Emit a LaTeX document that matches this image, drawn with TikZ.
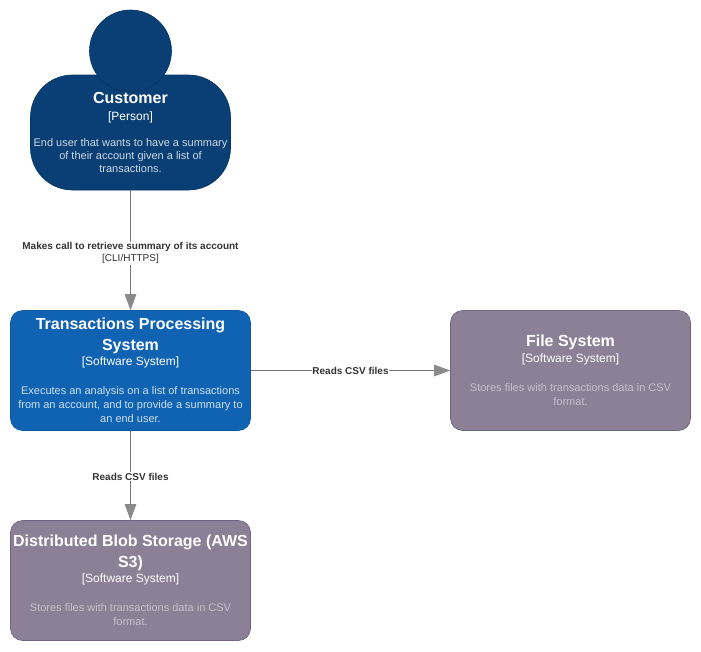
\documentclass[tikz,border=0pt]{standalone}
\usepackage{fontspec}
\setmainfont{Liberation Sans}
\usepackage{xcolor}
\usetikzlibrary{arrows.meta, positioning}
\definecolor{personblue}{RGB}{9, 63, 117}
\definecolor{personline}{RGB}{6, 52, 98}
\definecolor{systemblue}{RGB}{16, 98, 178}
\definecolor{systemline}{RGB}{14, 88, 160}
\definecolor{extpurple}{RGB}{139, 128, 150}
\definecolor{extline}{RGB}{112, 100, 128}
\definecolor{relgray}{RGB}{118, 118, 118}
\definecolor{tipgray}{RGB}{138, 138, 138}
\definecolor{labelgray}{RGB}{52, 52, 52}
\newcommand{\boxtitle}[1]{{\fontsize{16}{14}\selectfont\bfseries #1}}
\newcommand{\boxtype}[1]{{\fontsize{12}{14}\selectfont #1}}
\newcommand{\boxdesc}[1]{{\fontsize{11}{14}\selectfont #1}}
\tikzset{
    c4box/.style={text=white, align=center, inner sep=0pt, minimum width=240pt,
                  minimum height=120pt, rounded corners=12pt, line width=0.6pt,
                  font=\fontsize{11}{14}\selectfont},
    sysbox/.style={c4box, draw=systemline, fill=systemblue},
    extbox/.style={c4box, draw=extline, fill=extpurple},
    relline/.style={draw=relgray, line width=0.8pt,
                    -{Triangle[length=16pt, width=11.5pt, fill=tipgray, color=tipgray]}},
    rellabel/.style={fill=white, inner xsep=0pt, inner ysep=1pt, align=center,
                     text=labelgray, font=\fontsize{10}{12}\selectfont}
}

\begin{document}
\begin{tikzpicture}[x=1pt, y=-1pt]
    \useasboundingbox (0,0) rectangle (701,651);
    \node[c4box, minimum width=200pt, minimum height=115pt, rounded corners=42pt,
          draw=personline, fill=personblue] (customer) at (130.5,132.5)
          {\boxtitle{Customer}\\[3pt] \boxtype{[Person]}\\[12.5pt]
           \boxdesc{\textcolor{white!80!personblue}{End user that wants to have a summary}}\\[-1pt]
           \boxdesc{\textcolor{white!80!personblue}{of their account given a list of}}\\[-1pt]
           \boxdesc{\textcolor{white!80!personblue}{transactions.}}};
    \node[circle, draw=personline, fill=personblue, line width=0.6pt, inner sep=0pt,
          minimum size=82pt] (head) at (130.5,51) {};
    \node[sysbox] (tps) at (130.5,370.5)
          {\boxtitle{Transactions Processing}\\[5pt] \boxtitle{System}\\[1pt] \boxtype{[Software System]}\\[15pt]
           \boxdesc{\textcolor{white!80!systemblue}{Executes an analysis on a list of transactions}}\\
           \boxdesc{\textcolor{white!80!systemblue}{from an account, and to provide a summary to}}\\
           \boxdesc{\textcolor{white!80!systemblue}{an end user.}}};
    \node[extbox] (files) at (570.5,370.5)
          {\boxtitle{File System}\\[2pt] \boxtype{[Software System]}\\[15pt]
           \boxdesc{\textcolor{white!50!extpurple}{Stores files with transactions data in CSV}}\\
           \boxdesc{\textcolor{white!50!extpurple}{format.}}};
    \node[extbox] (blob) at (130.5,580.5)
          {\boxtitle{Distributed Blob Storage (AWS}\\[5pt] \boxtitle{S3)}\\[1pt] \boxtype{[Software System]}\\[15pt]
           \boxdesc{\textcolor{white!50!extpurple}{Stores files with transactions data in CSV}}\\
           \boxdesc{\textcolor{white!50!extpurple}{format.}}};
    \draw[relline] (customer) -- node[rellabel, yshift=-3pt] {\textbf{Makes call to retrieve summary of its account}\\{[CLI/HTTPS]}} (tps);
    \draw[relline] (tps) -- node[rellabel] {\textbf{Reads CSV files}} (files);
    \draw[relline] (tps) -- node[rellabel, yshift=-1pt] {\textbf{Reads CSV files}} (blob);
\end{tikzpicture}
\end{document}
